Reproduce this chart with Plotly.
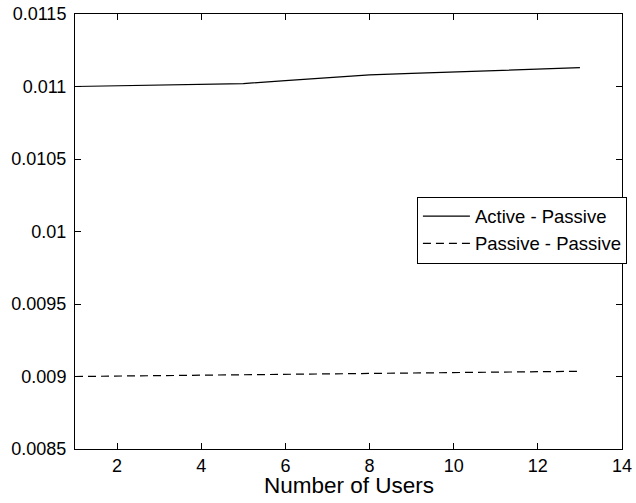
import plotly.graph_objects as go

users = list(range(1, 14))
active_passive = [0.01100, 0.011005, 0.01101, 0.011015, 0.01102, 0.01104, 0.01106,
                  0.01108, 0.01109, 0.011100, 0.01111, 0.01112, 0.01113]
passive_passive = [0.009000, 0.009003, 0.009006, 0.009009, 0.009012, 0.009015, 0.009018,
                   0.009021, 0.009024, 0.009027, 0.009030, 0.009033, 0.009036]
y_ticks = [0.0085, 0.009, 0.0095, 0.01, 0.0105, 0.011, 0.0115]
y_labels = ["0.0085", "0.009", "0.0095", "0.01", "0.0105", "0.011", "0.0115"]
x_ticks = [2, 4, 6, 8, 10, 12, 14]

fig = go.Figure()
fig.add_trace(go.Scatter(x=users, y=active_passive, mode="lines", name="Active - Passive",
                         line=dict(color="black", width=1.2)))
fig.add_trace(go.Scatter(x=users, y=passive_passive, mode="lines", name="Passive - Passive",
                         line=dict(color="black", width=1.2, dash="8px,5px")))

axis_common = dict(showline=True, linecolor="black", linewidth=1, mirror="allticks",
                   ticks="inside", ticklen=6, tickcolor="black", showgrid=False,
                   zeroline=False, tickfont=dict(family="Liberation Sans, Arial", size=18, color="black"))

fig.update_layout(
    width=636, height=503,
    margin=dict(l=75, r=9, t=14, b=54),
    paper_bgcolor="white", plot_bgcolor="white",
    font=dict(family="Liberation Sans, Arial", color="black"),
    xaxis=dict(range=[1, 14], tickvals=x_ticks, automargin=False, ticklabelstandoff=0,
               **axis_common),
    yaxis=dict(range=[0.0085, 0.0115], tickvals=y_ticks, ticktext=y_labels, automargin=False,
               ticklabelstandoff=4, **axis_common),
    legend=dict(x=1.009, y=0.58, xanchor="right", yanchor="top",
                bordercolor="black", borderwidth=1, bgcolor="white",
                font=dict(size=18.5), tracegroupgap=0, itemwidth=47),
    showlegend=True,
    annotations=[dict(text="Number of Users", x=0.5, y=-0.084, xref="paper", yref="paper",
                      xanchor="center", yanchor="middle", showarrow=False,
                      font=dict(size=22.5, color="black"))],
)
fig.write_html("out.html", config={"displayModeBar": False},
               post_script="document.body.style.margin='0';")
